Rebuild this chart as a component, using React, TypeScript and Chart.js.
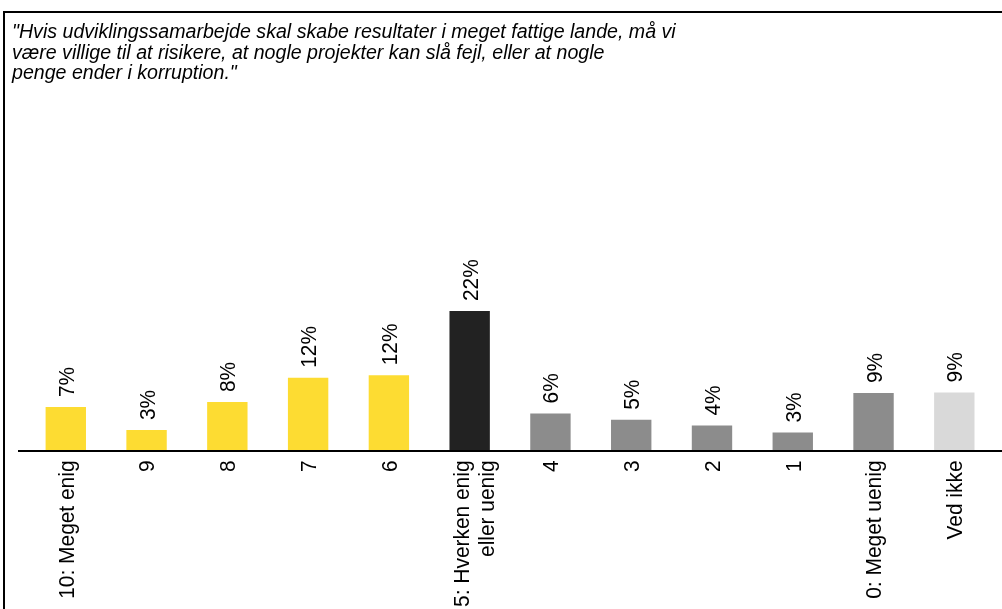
import React, { useEffect, useRef } from 'react';
import { Chart, registerables } from 'chart.js';

Chart.register(...registerables);

const titleLines = [
  '"Hvis udviklingssamarbejde skal skabe resultater i meget fattige lande, må vi',
  'være villige til at risikere, at nogle projekter kan slå fejl, eller at nogle',
  'penge ender i korruption."',
];

const categories: (string | string[])[] = [
  '10: Meget enig',
  '9',
  '8',
  '7',
  '6',
  ['5: Hverken enig', 'eller uenig'],
  '4',
  '3',
  '2',
  '1',
  '0: Meget uenig',
  'Ved ikke',
];

const values = [6.9, 3.3, 7.7, 11.5, 11.9, 22, 5.9, 4.9, 4.0, 2.9, 9.1, 9.2];
const valueLabels = ['7%', '3%', '8%', '12%', '12%', '22%', '6%', '5%', '4%', '3%', '9%', '9%'];

const YELLOW = '#FDDC32';
const BLACK = '#222222';
const GREY = '#8C8C8C';
const LIGHT = '#D9D9D9';
const barColors = [YELLOW, YELLOW, YELLOW, YELLOW, YELLOW, BLACK, GREY, GREY, GREY, GREY, GREY, LIGHT];

const FONT_FAMILY = '"Liberation Sans", Arial, Helvetica, sans-serif';
const LABEL_FONT = `22px ${FONT_FAMILY}`;
const SQUEEZE = 0.95;

const valueLabelPlugin = {
  id: 'valueLabelPlugin',
  afterDatasetsDraw(chart: any) {
    const meta = chart.getDatasetMeta(0);
    const ctx = chart.ctx;
    ctx.save();
    ctx.font = LABEL_FONT;
    ctx.fillStyle = '#000';
    ctx.textAlign = 'left';
    ctx.textBaseline = 'alphabetic';
    meta.data.forEach((bar: any, i: number) => {
      ctx.save();
      ctx.translate(bar.x + 8, bar.y - 10);
      ctx.rotate(-Math.PI / 2);
      ctx.scale(SQUEEZE, 1);
      ctx.fillText(valueLabels[i], 0, 0);
      ctx.restore();
    });
    ctx.restore();
  },
};

const xLabelPlugin = {
  id: 'xLabelPlugin',
  afterDraw(chart: any) {
    const xs = chart.scales.x;
    const ctx = chart.ctx;
    const yEnd = chart.chartArea.bottom + 9.5;
    ctx.save();
    ctx.font = LABEL_FONT;
    ctx.fillStyle = '#000';
    ctx.textAlign = 'right';
    ctx.textBaseline = 'alphabetic';
    categories.forEach((cat, i) => {
      const lines = Array.isArray(cat) ? cat : [cat];
      const n = lines.length;
      const x = xs.getPixelForValue(i);
      lines.forEach((line, k) => {
        const bx = x + 7.8 + (k - (n - 1) / 2) * 25 + (n > 1 ? 4 : 0);
        ctx.save();
        ctx.translate(bx, yEnd);
        ctx.rotate(-Math.PI / 2);
        ctx.scale(SQUEEZE, 1);
        ctx.fillText(line, 0, 0);
        ctx.restore();
      });
    });
    ctx.restore();
  },
};

const baselinePlugin = {
  id: 'baselinePlugin',
  afterDatasetsDraw(chart: any) {
    const ctx = chart.ctx;
    const y0 = chart.scales.y.getPixelForValue(0);
    ctx.save();
    ctx.fillStyle = '#000';
    ctx.fillRect(18, Math.round(y0) - 1, chart.width, 2);
    ctx.restore();
  },
};

export default function App() {
  const canvasRef = useRef<HTMLCanvasElement | null>(null);

  useEffect(() => {
    if (!canvasRef.current) return;
    const chart = new Chart(canvasRef.current, {
      type: 'bar',
      data: {
        labels: categories,
        datasets: [
          {
            data: values,
            backgroundColor: barColors,
            borderWidth: 0,
            barPercentage: 0.5,
            categoryPercentage: 1,
          },
        ],
      },
      options: {
        animation: false,
        responsive: false,
        layout: { padding: { left: 25.4, right: 7.3, top: 101, bottom: 0 } },
        plugins: {
          legend: { display: false },
          tooltip: { enabled: false },
          title: { display: false },
        },
        scales: {
          x: {
            grid: { display: false },
            border: { display: false },
            ticks: { display: false },
            afterFit: (scale: any) => {
              scale.height = 158;
            },
          },
          y: {
            display: false,
            min: 0,
            max: 55,
          },
        },
      },
      plugins: [valueLabelPlugin, baselinePlugin, xLabelPlugin],
    });
    return () => chart.destroy();
  }, []);

  return (
    <div
      style={{
        position: 'fixed',
        left: 0,
        top: 0,
        width: 1002,
        height: 609,
        overflow: 'hidden',
        background: '#fff',
      }}
    >
      <div
        style={{
          position: 'absolute',
          left: 3,
          top: 11,
          width: 1100,
          height: 700,
          borderTop: '2px solid #000',
          borderLeft: '2px solid #000',
        }}
      />
      <canvas
        ref={canvasRef}
        width={1002}
        height={609}
        style={{ position: 'absolute', left: 0, top: 0 }}
      />
      <div
        style={{
          position: 'absolute',
          left: 12,
          top: 21,
          fontFamily: FONT_FAMILY,
          fontStyle: 'italic',
          fontSize: '19.6px',
          lineHeight: '20.6px',
          color: '#000',
          whiteSpace: 'nowrap',
        }}
      >
        {titleLines.map((l, i) => (
          <div key={i}>{l}</div>
        ))}
      </div>
    </div>
  );
}
